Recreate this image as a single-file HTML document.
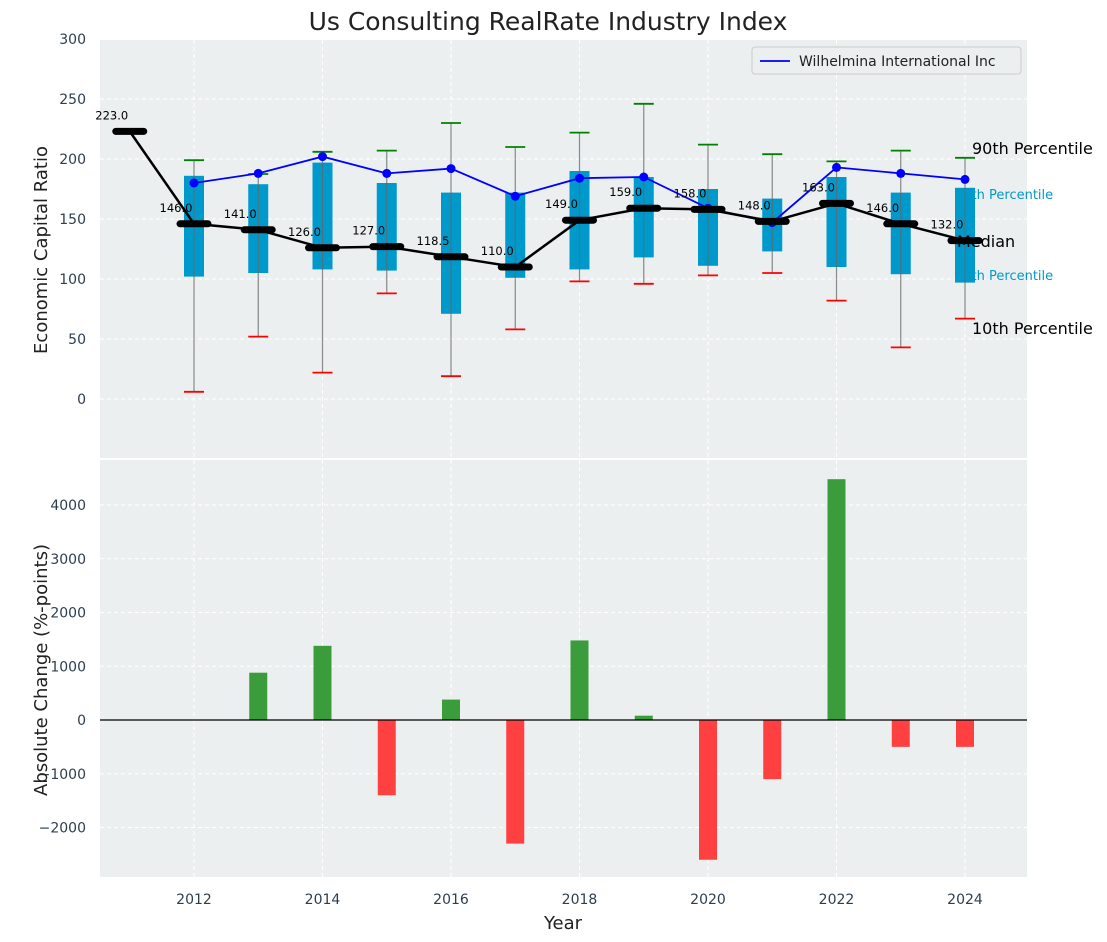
<!DOCTYPE html>
<html><head><meta charset="utf-8"><style>
body{margin:0;background:#fff;}
svg{display:block;font-family:"DejaVu Sans","Liberation Sans",sans-serif;}
</style></head><body>
<svg id="c" width="1107" height="942"></svg>
<script>
const years=[2012,2013,2014,2015,2016,2017,2018,2019,2020,2021,2022,2023,2024];
const medYears=[2011,2012,2013,2014,2015,2016,2017,2018,2019,2020,2021,2022,2023,2024];
const medians=[223,146,141,126,127,118.5,110,149,159,158,148,163,146,132];
const p90=[199,187.5,206,207,230,210,222,246,212,204,198,207,201];
const p75=[186,179,197,180,172,172,190,185,175,167,185,172,176];
const p25=[102,105,108,107,71,101,108,118,111,123,110,104,97];
const p10=[6,52,22,88,19,58,98,96,103,105,82,43,67];
const company=[180,188,202,188,192,169,184,185,159,147,193,188,183];
const changes=[0,880,1380,-1400,380,-2300,1480,80,-2600,-1100,4480,-500,-500];
const yTicksTop=[0,50,100,150,200,250,300];
const yTicksBot=[-2000,-1000,0,1000,2000,3000,4000];
const xTicks=[2012,2014,2016,2018,2020,2022,2024];

const NS="http://www.w3.org/2000/svg";
const svg=document.getElementById('c');
function mk(t,a,p){const e=document.createElementNS(NS,t);for(const k in a)e.setAttribute(k,a[k]);(p||svg).appendChild(e);return e;}
const L=100,R=1027;
const X=v=>194+(v-2012)*64.25;
const YT=v=>399-v*1.2;
const YB=v=>720-v*0.05375;

let t=mk('text',{x:548,y:30,'text-anchor':'middle','font-size':25,fill:'#222'});t.textContent='Us Consulting RealRate Industry Index';



let bg1=mk('rect',{x:L,y:40,width:R-L,height:418,fill:'#ebeff0'});


let bg2=mk('rect',{x:L,y:460,width:R-L,height:417,fill:'#ebeff0'});



xTicks.forEach(v=>{
 [[40,458],[460,877]].forEach(([a,b])=>{const g=mk('line',{x1:X(v),x2:X(v),y1:a,y2:b,stroke:'#fff','stroke-dasharray':'4,3','stroke-width':1});});
 const tx=mk('text',{x:X(v),y:904,'text-anchor':'middle','font-size':14,fill:'#2d3e50'});tx.textContent=v;
 
 
});
yTicksTop.forEach(v=>{
 const g=mk('line',{x1:L,x2:R,y1:YT(v),y2:YT(v),stroke:'#fff','stroke-dasharray':'4,3'});
 
 
 const tx=mk('text',{x:86,y:YT(v)+5,'text-anchor':'end','font-size':14,fill:'#2d3e50'});tx.textContent=v;
 
 
});
yTicksBot.forEach(v=>{
 const g=mk('line',{x1:L,x2:R,y1:YB(v),y2:YB(v),stroke:'#fff','stroke-dasharray':'4,3'});
 
 
 const tx=mk('text',{x:86,y:YB(v)+5,'text-anchor':'end','font-size':14,fill:'#2d3e50'});tx.textContent=v<0?'\u2212'+(-v):v;
 
 
});

[['75th Percentile',955,199],['25th Percentile',955,280]].forEach(a=>{
 const tx=mk('text',{x:a[1],y:a[2],'font-size':13,fill:'#0099cc'});tx.textContent=a[0];
 
 
});

years.forEach((y,i)=>{
 const x=X(y);
 const b=mk('rect',{x:x-10,y:YT(p75[i]),width:20,height:YT(p25[i])-YT(p75[i]),fill:'#0099cc'});
 
 
 const w2=mk('line',{x1:x,x2:x,y1:YT(p90[i]),y2:YT(p10[i]),stroke:'#666','stroke-width':1.2,opacity:0.75});
 
 
 const g=mk('line',{x1:x-10,x2:x+10,y1:YT(p90[i]),y2:YT(p90[i]),stroke:'green','stroke-width':1.8});
 
 
 const r=mk('line',{x1:x-10,x2:x+10,y1:YT(p10[i]),y2:YT(p10[i]),stroke:'red','stroke-width':1.8});
 
 
});

let cl=mk('polyline',{points:years.map((y,i)=>X(y)+','+YT(company[i])).join(' '),fill:'none',stroke:'blue','stroke-width':1.8});


years.forEach((y,i)=>{const c=mk('circle',{cx:X(y),cy:YT(company[i]),r:4.5,fill:'blue'});});

[['90th Percentile',972,154,16],['Median',957,247,16],['10th Percentile',972,334,16]].forEach(a=>{
 const tx=mk('text',{x:a[1],y:a[2],'font-size':a[3],fill:'#000'});tx.textContent=a[0];
 
 
});

let ml=mk('polyline',{points:medYears.map((y,i)=>X(y)+','+YT(medians[i])).join(' '),fill:'none',stroke:'#000','stroke-width':2.5});


medYears.forEach((y,i)=>{
 const m=mk('line',{x1:X(y)-14,x2:X(y)+14,y1:YT(medians[i]),y2:YT(medians[i]),stroke:'#000','stroke-width':7,'stroke-linecap':'round'});
 
 
 const tx=mk('text',{x:X(y)-18,y:YT(medians[i])-12,'text-anchor':'middle','font-size':11.5,fill:'#000'});tx.textContent=medians[i].toFixed(1);
 
 
});

let lg=mk('g',{});


mk('rect',{x:752,y:47,width:269,height:27,fill:'#ebeff0',stroke:'#ccc',rx:3},lg);
mk('line',{x1:760,x2:790,y1:61,y2:61,stroke:'blue','stroke-width':1.8},lg);
let lt=mk('text',{x:799,y:66,'font-size':14,fill:'#222'},lg);lt.textContent='Wilhelmina International Inc';

years.forEach((y,i)=>{
 const v=changes[i];if(v===0)return;
 const y1=YB(Math.max(v,0)),y2=YB(Math.min(v,0));
 const b=mk('rect',{x:X(y)-9,y:y1,width:18,height:y2-y1,fill:v>0?'#3a9c3a':'#ff4040'});
 
 
});
let zl=mk('line',{x1:L,x2:R,y1:YB(0),y2:YB(0),stroke:'#000','stroke-width':1.2});



let a1=mk('text',{x:0,y:0,transform:'translate(47,250) rotate(-90)','text-anchor':'middle','font-size':18,fill:'#222'});a1.textContent='Economic Capital Ratio';


let a2=mk('text',{x:0,y:0,transform:'translate(47,670) rotate(-90)','text-anchor':'middle','font-size':18,fill:'#222'});a2.textContent='Absolute Change (%-points)';


let a3=mk('text',{x:563,y:929,'text-anchor':'middle','font-size':18,fill:'#222'});a3.textContent='Year';


</script>
</body></html>
